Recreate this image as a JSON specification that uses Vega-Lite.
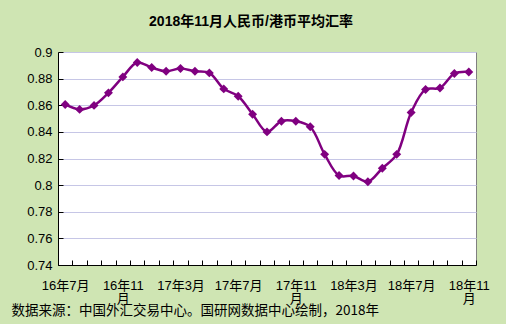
{
  "$schema": "https://vega.github.io/schema/vega-lite/v6.json",
  "width": 418,
  "height": 213,
  "autosize": {"type": "none"},
  "padding": {"left": 58, "top": 52, "right": 30, "bottom": 59},
  "background": "#cfe5b3",
  "title": {
    "text": "2018年11月人民币/港币平均汇率",
    "font": "Liberation Sans, Noto Sans CJK SC",
    "fontSize": 14,
    "fontWeight": "bold",
    "color": "#000000",
    "anchor": "middle",
    "dx": -16,
    "offset": 17
  },
  "config": {
    "view": {"stroke": "#808080", "fill": "#ffffff"},
    "font": "Liberation Sans, Noto Sans CJK SC"
  },
  "data": {
    "values": [
      {"month": "16年7月", "rate": 0.8606},
      {"month": "16年8月", "rate": 0.8569},
      {"month": "16年9月", "rate": 0.8599},
      {"month": "16年10月", "rate": 0.8693},
      {"month": "16年11月", "rate": 0.8813},
      {"month": "16年12月", "rate": 0.8921},
      {"month": "17年1月", "rate": 0.8883},
      {"month": "17年2月", "rate": 0.8855},
      {"month": "17年3月", "rate": 0.8876},
      {"month": "17年4月", "rate": 0.8855},
      {"month": "17年5月", "rate": 0.8843},
      {"month": "17年6月", "rate": 0.8723},
      {"month": "17年7月", "rate": 0.8668},
      {"month": "17年8月", "rate": 0.8533},
      {"month": "17年9月", "rate": 0.8400},
      {"month": "17年10月", "rate": 0.8480},
      {"month": "17年11月", "rate": 0.8480},
      {"month": "17年12月", "rate": 0.8438},
      {"month": "18年1月", "rate": 0.8231},
      {"month": "18年2月", "rate": 0.8072},
      {"month": "18年3月", "rate": 0.8069},
      {"month": "18年4月", "rate": 0.8026},
      {"month": "18年5月", "rate": 0.8127},
      {"month": "18年6月", "rate": 0.8231},
      {"month": "18年7月", "rate": 0.8546},
      {"month": "18年8月", "rate": 0.8718},
      {"month": "18年9月", "rate": 0.8730},
      {"month": "18年10月", "rate": 0.8838},
      {"month": "18年11月", "rate": 0.8850}
    ]
  },
  "encoding": {
    "x": {
      "field": "month",
      "type": "ordinal",
      "sort": null,
      "bandPosition": 0.5,
      "scale": {"type": "band", "paddingInner": 0, "paddingOuter": 0},
      "axis": {
        "title": "数据来源：中国外汇交易中心。国研网数据中心绘制，2018年",
        "titleFont": "Noto Sans CJK SC",
        "titleFontSize": 13.5,
        "titleFontWeight": "normal",
        "titleColor": "#000000",
        "titleAnchor": "start",
        "titleAlign": "left",
        "titleBaseline": "middle",
        "titleX": -47,
        "titleY": 45,
        "labelAngle": 0,
        "labelFontSize": 13,
        "labelColor": "#000000",
        "labelOverlap": false,
        "labelBound": false,
        "labelFlush": false,
        "labelPadding": 19,
        "labelLineHeight": 13,
        "labelExpr": "indexof(['16年7月','16年11月','17年3月','17年7月','17年11月','18年3月','18年7月','18年11月'], datum.value) < 0 ? '' : (length(datum.value) > 5 ? [slice(datum.value, 0, 5), '月'] : datum.value)",
        "tickBand": "extent",
        "tickSize": -5,
        "tickColor": "#000000",
        "domainColor": "#000000",
        "grid": false
      }
    },
    "y": {
      "field": "rate",
      "type": "quantitative",
      "scale": {"domain": [0.74, 0.9], "zero": false, "nice": false},
      "axis": {
        "title": null,
        "values": [0.74, 0.76, 0.78, 0.8, 0.82, 0.84, 0.86, 0.88, 0.9],
        "format": ".2~f",
        "labelFontSize": 13,
        "labelColor": "#000000",
        "labelPadding": 11,
        "tickSize": -5,
        "tickColor": "#000000",
        "domainColor": "#000000",
        "gridColor": "#c6c6e6",
        "gridOpacity": 1
      }
    }
  },
  "layer": [
    {
      "mark": {"type": "line", "color": "#800080", "strokeWidth": 2.5, "interpolate": "catmull-rom"}
    },
    {
      "mark": {"type": "point", "shape": "diamond", "filled": true, "color": "#800080", "opacity": 1, "size": 80}
    }
  ]
}
